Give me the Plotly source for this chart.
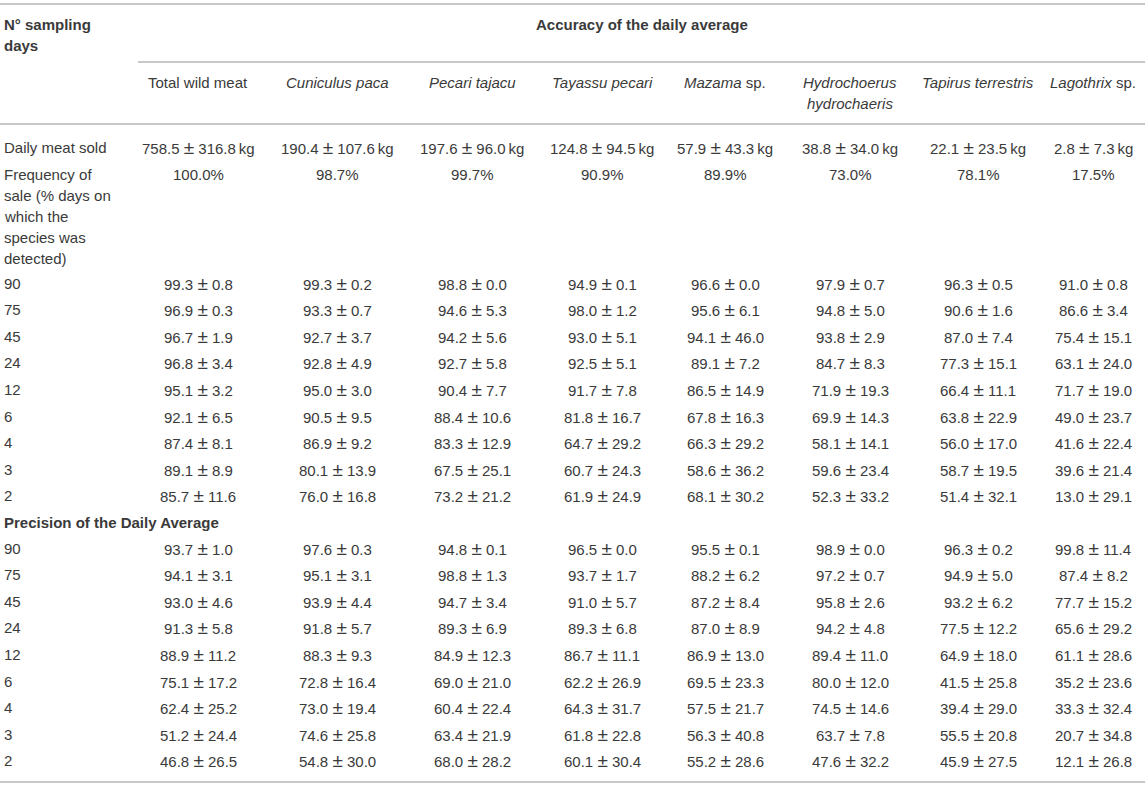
import plotly.graph_objects as go

# column headings (two lines, only Hydrochoerus needs the second)
head_line1 = ["Total wild meat", "<i>Cuniculus paca</i>", "<i>Pecari tajacu</i>", "<i>Tayassu pecari</i>",
              "<i>Mazama</i> sp.", "<i>Hydrochoerus</i>", "<i>Tapirus terrestris</i>", "<i>Lagothrix</i> sp."]
head_line2 = ["", "", "", "", "", "<i>hydrochaeris</i>", "", ""]

daily_mean = [758.5, 190.4, 197.6, 124.8, 57.9, 38.8, 22.1, 2.8]
daily_sd = [316.8, 107.6, 96.0, 94.5, 43.3, 34.0, 23.5, 7.3]
freq_sale = [100.0, 98.7, 99.7, 90.9, 89.9, 73.0, 78.1, 17.5]
freq_label = ["Frequency of", "sale (% days on", "which the", "species was", "detected)"]

days = [90, 75, 45, 24, 12, 6, 4, 3, 2]

acc_mean = [
    [99.3, 99.3, 98.8, 94.9, 96.6, 97.9, 96.3, 91.0],
    [96.9, 93.3, 94.6, 98.0, 95.6, 94.8, 90.6, 86.6],
    [96.7, 92.7, 94.2, 93.0, 94.1, 93.8, 87.0, 75.4],
    [96.8, 92.8, 92.7, 92.5, 89.1, 84.7, 77.3, 63.1],
    [95.1, 95.0, 90.4, 91.7, 86.5, 71.9, 66.4, 71.7],
    [92.1, 90.5, 88.4, 81.8, 67.8, 69.9, 63.8, 49.0],
    [87.4, 86.9, 83.3, 64.7, 66.3, 58.1, 56.0, 41.6],
    [89.1, 80.1, 67.5, 60.7, 58.6, 59.6, 58.7, 39.6],
    [85.7, 76.0, 73.2, 61.9, 68.1, 52.3, 51.4, 13.0],
]
acc_sd = [
    [0.8, 0.2, 0.0, 0.1, 0.0, 0.7, 0.5, 0.8],
    [0.3, 0.7, 5.3, 1.2, 6.1, 5.0, 1.6, 3.4],
    [1.9, 3.7, 5.6, 5.1, 46.0, 2.9, 7.4, 15.1],
    [3.4, 4.9, 5.8, 5.1, 7.2, 8.3, 15.1, 24.0],
    [3.2, 3.0, 7.7, 7.8, 14.9, 19.3, 11.1, 19.0],
    [6.5, 9.5, 10.6, 16.7, 16.3, 14.3, 22.9, 23.7],
    [8.1, 9.2, 12.9, 29.2, 29.2, 14.1, 17.0, 22.4],
    [8.9, 13.9, 25.1, 24.3, 36.2, 23.4, 19.5, 21.4],
    [11.6, 16.8, 21.2, 24.9, 30.2, 33.2, 32.1, 29.1],
]
prec_mean = [
    [93.7, 97.6, 94.8, 96.5, 95.5, 98.9, 96.3, 99.8],
    [94.1, 95.1, 98.8, 93.7, 88.2, 97.2, 94.9, 87.4],
    [93.0, 93.9, 94.7, 91.0, 87.2, 95.8, 93.2, 77.7],
    [91.3, 91.8, 89.3, 89.3, 87.0, 94.2, 77.5, 65.6],
    [88.9, 88.3, 84.9, 86.7, 86.9, 89.4, 64.9, 61.1],
    [75.1, 72.8, 69.0, 62.2, 69.5, 80.0, 41.5, 35.2],
    [62.4, 73.0, 60.4, 64.3, 57.5, 74.5, 39.4, 33.3],
    [51.2, 74.6, 63.4, 61.8, 56.3, 63.7, 55.5, 20.7],
    [46.8, 54.8, 68.0, 60.1, 55.2, 47.6, 45.9, 12.1],
]
prec_sd = [
    [1.0, 0.3, 0.1, 0.0, 0.1, 0.0, 0.2, 11.4],
    [3.1, 3.1, 1.3, 1.7, 6.2, 0.7, 5.0, 8.2],
    [4.6, 4.4, 3.4, 5.7, 8.4, 2.6, 6.2, 15.2],
    [5.8, 5.7, 6.9, 6.8, 8.9, 4.8, 12.2, 29.2],
    [11.2, 9.3, 12.3, 11.1, 13.0, 11.0, 18.0, 28.6],
    [17.2, 16.4, 21.0, 26.9, 23.3, 12.0, 25.8, 23.6],
    [25.2, 19.4, 22.4, 31.7, 21.7, 14.6, 29.0, 32.4],
    [24.4, 25.8, 21.9, 22.8, 40.8, 7.8, 20.8, 34.8],
    [26.5, 30.0, 28.2, 30.4, 28.6, 32.2, 27.5, 26.8],
]

W, H = 1145, 785
FONT = "Liberation Sans, Arial, sans-serif"
TXT = "#3a3a3a"
LINE = "#b4b4b4"
FS = 15
# the ± in the source is drawn noticeably larger than the digits
PM = " <span style='font-size:19px'>±</span> "

col_x = [198, 337, 472, 602, 725, 850, 978, 1093]
left_x = 2
step = 26.6

annots = []


def put(x, y, text, anchor="center", bold=False):
    if bold:
        text = "<b>" + text + "</b>"
    annots.append(dict(x=x, y=y, xref="x", yref="y", text=text, showarrow=False,
                       xanchor=anchor, yanchor="middle",
                       font=dict(family=FONT, size=FS, color=TXT)))


# header block
put(left_x, 24, "N° sampling", "left", bold=True)
put(left_x, 45, "days", "left", bold=True)
put((138 + W) / 2, 24, "Accuracy of the daily average", bold=True)
for i, cx in enumerate(col_x):
    put(cx, 82, head_line1[i])
    if head_line2[i]:
        put(cx, 103, head_line2[i])

# daily meat and frequency of sale
put(left_x, 147, "Daily meat sold", "left")
for i, cx in enumerate(col_x):
    put(cx, 147, f"{daily_mean[i]:.1f}{PM}{daily_sd[i]:.1f}\u2009kg")
    put(cx, 174, f"{freq_sale[i]:.1f}%")
for k, lab in enumerate(freq_label):
    put(left_x, 174 + k * 21.2, lab, "left")

# accuracy rows
y0 = 283
for r, d in enumerate(days):
    y = y0 + r * step
    put(left_x, y, str(d), "left")
    for i, cx in enumerate(col_x):
        put(cx, y, f"{acc_mean[r][i]:.1f}{PM}{acc_sd[r][i]:.1f}")

# precision block
put(left_x, 522, "Precision of the Daily Average", "left", bold=True)
y0 = 548
for r, d in enumerate(days):
    y = y0 + r * step
    put(left_x, y, str(d), "left")
    for i, cx in enumerate(col_x):
        put(cx, y, f"{prec_mean[r][i]:.1f}{PM}{prec_sd[r][i]:.1f}")

shapes = []
for (xa, ya) in [(0, 4), (138, 62), (0, 124), (0, 782)]:
    shapes.append(dict(type="line", xref="x", yref="y", x0=xa, x1=W, y0=ya, y1=ya,
                       line=dict(color=LINE, width=1.5)))

fig = go.Figure()
fig.update_layout(width=W, height=H, margin=dict(l=0, r=0, t=0, b=0),
                  paper_bgcolor="white", plot_bgcolor="white",
                  annotations=annots, shapes=shapes, showlegend=False)
fig.update_xaxes(range=[0, W], visible=False, fixedrange=True)
fig.update_yaxes(range=[H, 0], visible=False, fixedrange=True)

# page body has a default margin; drop it so the figure fills the window
fig.write_html("out.html", config={"displayModeBar": False},
               post_script="document.body.style.margin='0';")
